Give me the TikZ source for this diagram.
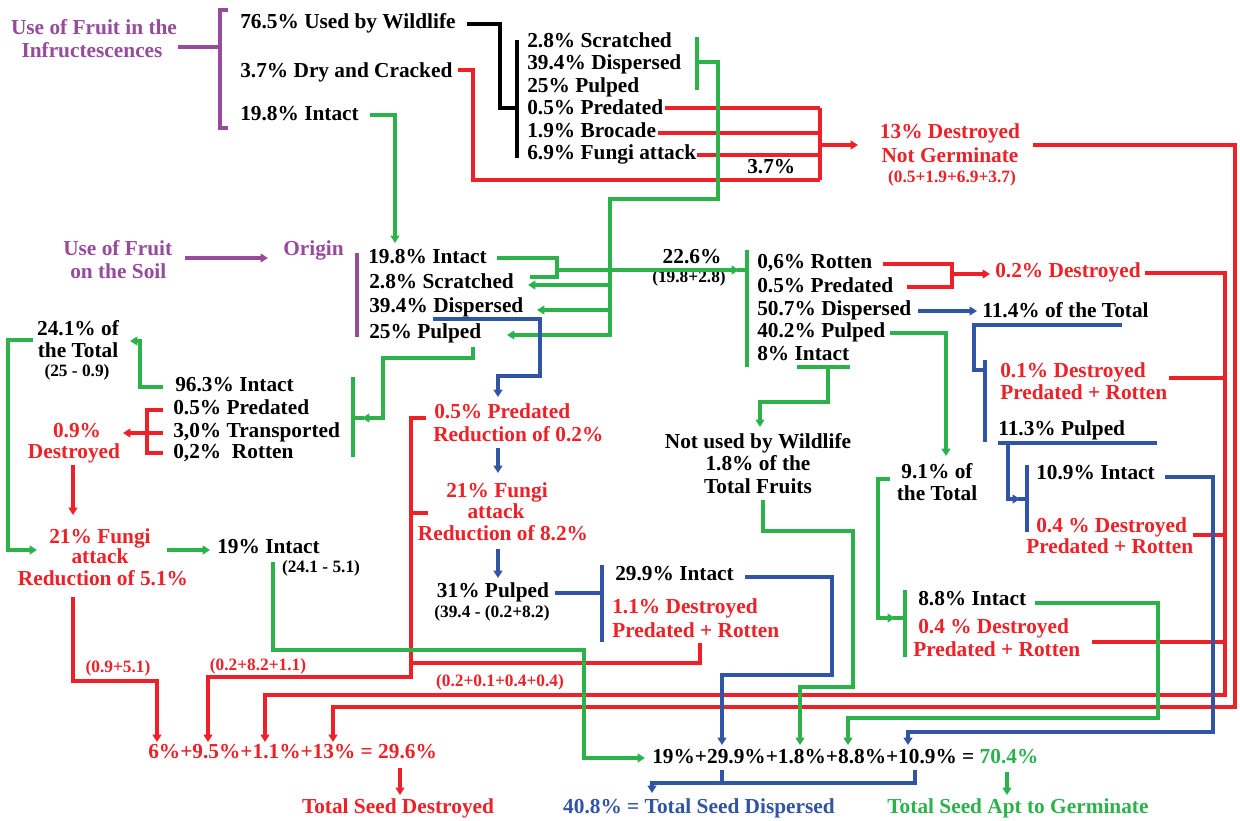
\documentclass[tikz,border=0pt]{standalone}
\usepackage{fontspec}
\setmainfont{Liberation Serif}
\usetikzlibrary{arrows.meta}
\definecolor{cr}{RGB}{237,33,39}
\definecolor{cg}{RGB}{45,178,75}
\definecolor{cb}{RGB}{50,84,165}
\definecolor{cp}{RGB}{150,75,155}
\begin{document}
\begin{tikzpicture}[x=0.75pt,y=-0.75pt,
  tx/.style={inner sep=0pt,font=\bfseries\fontsize{16}{18}\selectfont},
  sm/.style={inner sep=0pt,font=\bfseries\fontsize{13}{15}\selectfont},
  lw/.style={anchor=base west},
  lc/.style={anchor=base},
  ln/.style={line width=2.3pt,line join=miter},
  lr/.style={ln,draw=cr},
  lg/.style={ln,draw=cg},
  lb/.style={ln,draw=cb},
  lk/.style={ln,draw=black},
  lp/.style={ln,draw=cp},
  tip/.style={-{Triangle[length=5.5pt,width=6.5pt]}}]
\fill[white] (0,0) rectangle (1240,821);
\useasboundingbox (0,0) rectangle (1240,821);

% ---------------- texts ----------------
\node[tx,lc,text=cp] (pia) at (94,35) {Use of Fruit in the};
\node[tx,lc,text=cp] (pib) at (92,57) {Infructescences};
\node[tx,lw,text=cp] (psa) at (63,255) {Use of Fruit};
\node[tx,lw,text=cp] (psb) at (70,278) {on the Soil};
\node[tx,lw,text=cp] (orig) at (283,255) {Origin};

\node[tx,lw] (uw) at (240,28) {76.5\% Used by Wildlife};
\node[tx,lw] (dc) at (240,77) {3.7\% Dry and Cracked};
\node[tx,lw] (ti) at (240,120) {19.8\% Intact};

\node[tx,lw] (w1) at (527,47) {2.8\% Scratched};
\node[tx,lw] (w2) at (527,69) {39.4\% Dispersed};
\node[tx,lw] (w3) at (527,92) {25\% Pulped};
\node[tx,lw] (w4) at (527,114) {0.5\% Predated};
\node[tx,lw] (w5) at (527,137) {1.9\% Brocade};
\node[tx,lw] (w6) at (527,159) {6.9\% Fungi attack};
\node[tx,lw] (w7) at (747,173) {3.7\%};

\node[tx,lc,text=cr] (da) at (950,138) {13\% Destroyed};
\node[tx,lc,text=cr] (db) at (950,162) {Not Germinate};
\node[sm,lc,text=cr] (dcc) at (952,182) {(0.5+1.9+6.9+3.7)};

\node[tx,lw] (o1) at (368,263) {19.8\% Intact};
\node[tx,lw] (o2) at (369,288) {2.8\% Scratched};
\node[tx,lw] (o3) at (369,312) {39.4\% Dispersed};
\node[tx,lw] (o4) at (369,338) {25\% Pulped};

\node[tx,lc] (s1) at (692,263) {22.6\%};
\node[sm,lc] (s2) at (689,282) {(19.8+2.8)};

\node[tx,lw] (m1) at (757,268) {0,6\% Rotten};
\node[tx,lw] (m2) at (757,292) {0.5\% Predated};
\node[tx,lw] (m3) at (757,315) {50.7\% Dispersed};
\node[tx,lw] (m4) at (757,337) {40.2\% Pulped};
\node[tx,lw] (m5) at (757,360) {8\% Intact};

\node[tx,lw,text=cr] (d02) at (995,277) {0.2\% Destroyed};
\node[tx,lw] (t114) at (982,317) {11.4\% of the Total};
\node[tx,lw,text=cr] (d01a) at (1000,377) {0.1\% Destroyed};
\node[tx,lw,text=cr] (d01b) at (1000,399) {Predated + Rotten};
\node[tx,lw] (p113) at (998,435) {11.3\% Pulped};
\node[tx,lw] (i109) at (1036,479) {10.9\% Intact};
\node[tx,lw,text=cr] (d04a) at (1036,532) {0.4 \% Destroyed};
\node[tx,lw,text=cr] (d04b) at (1026,553) {Predated + Rotten};

\node[tx,lc] (nu1) at (758,448) {Not used by Wildlife};
\node[tx,lc] (nu2) at (758,470) {1.8\% of the};
\node[tx,lc] (nu3) at (758,493) {Total Fruits};

\node[tx,lc] (t91a) at (937,478) {9.1\% of};
\node[tx,lc] (t91b) at (937,500) {the Total};
\node[tx,lw] (i88) at (918,605) {8.8\% Intact};
\node[tx,lw,text=cr] (d04c) at (918,633) {0.4 \% Destroyed};
\node[tx,lw,text=cr] (d04d) at (913,656) {Predated + Rotten};

\node[tx,lc] (t241a) at (78,335) {24.1\% of};
\node[tx,lc] (t241b) at (78,357) {the Total};
\node[sm,lc] (t241c) at (77,376) {(25 - 0.9)};
\node[tx,lw] (l1) at (175,391) {96.3\% Intact};
\node[tx,lw] (l2) at (173,414) {0.5\% Predated};
\node[tx,lw] (l3) at (173,437) {3,0\% Transported};
\node[tx,lw] (l4) at (173,458) {0,2\%\ \ Rotten};
\node[tx,lc,text=cr] (d09a) at (77,437) {0.9\%};
\node[tx,lc,text=cr] (d09b) at (74,458) {Destroyed};
\node[tx,lc,text=cr] (f1a) at (100,543) {21\% Fungi};
\node[tx,lc,text=cr] (f1b) at (100,563) {attack};
\node[tx,lc,text=cr] (f1c) at (103,585) {Reduction of 5.1\%};
\node[tx,lw] (i19) at (217,553) {19\% Intact};
\node[sm,lc] (i19b) at (321,572) {(24.1 - 5.1)};

\node[tx,lw,text=cr] (pr1) at (434,418) {0.5\% Predated};
\node[tx,lw,text=cr] (pr2) at (433,441) {Reduction of 0.2\%};
\node[tx,lc,text=cr] (f2a) at (497,497) {21\% Fungi};
\node[tx,lc,text=cr] (f2b) at (496,518) {attack};
\node[tx,lc,text=cr] (f2c) at (503,540) {Reduction of 8.2\%};
\node[tx,lc] (p31) at (493,597) {31\% Pulped};
\node[sm,lc] (p31b) at (492,617) {(39.4 - (0.2+8.2)};
\node[tx,lw] (i299) at (615,580) {29.9\% Intact};
\node[tx,lw,text=cr] (d11a) at (612,613) {1.1\% Destroyed};
\node[tx,lw,text=cr] (d11b) at (612,637) {Predated + Rotten};

\node[sm,lc,text=cr] (k1) at (118,672) {(0.9+5.1)};
\node[sm,lc,text=cr] (k2) at (258,670) {(0.2+8.2+1.1)};
\node[sm,lc,text=cr] (k3) at (500,686) {(0.2+0.1+0.4+0.4)};

\node[tx,lw,text=cr] (eqr) at (148,758) {6\%+9.5\%+1.1\%+13\% = 29.6\%};
\node[tx,lw] (eqk) at (652,763) {19\%+29.9\%+1.8\%+8.8\%+10.9\% = {\color{cg}70.4\%}};
\node[tx,lc,text=cr] (tsd) at (398,813) {Total Seed Destroyed};
\node[tx,lc,text=cb] (tsp) at (699,813) {40.8\% = Total Seed Dispersed};
\node[tx,lc,text=cg] (tsg) at (1018,813) {Total Seed Apt to Germinate};

% ---------------- connector ends ----------------
\coordinate (pj) at (178,47);
\coordinate (ps) at (185,258);
\coordinate (po) at (268,258);
\coordinate (k0) at (467,24);

% ---------------- connectors ----------------
% purple
\draw[lp] (pj) -- (220,47);
\draw[lp] (228,10) -- (220,10) -- (220,128) -- (228,128);
\draw[lp,tip] (ps) -- (po);
\draw[lp] (357,253) -- (357,337);

% black
\draw[lk] (k0) -- (500,24) -- (500,108) -- (517,108);
\draw[lk] (517,40) -- (517,158);

% red top
\draw[lr] (458,70) -- (473,70) -- (473,180) -- (820,180);
\draw[lr] (665,108) -- (820,108);
\draw[lr] (658,133) -- (820,133);
\draw[lr] (697,155) -- (820,155);
\draw[lr] (820,108) -- (820,180);
\draw[lr,tip] (820,145) -- (858,145);
\draw[lr,tip] (1033,145) -- (1235,145) -- (1235,707) -- (333,707) -- (333,742);

% green top
\draw[lg] (697,37) -- (697,90);
\draw[lg,tip] (697,62) -- (718,62) -- (718,199) -- (610,199) -- (610,335) -- (507,335);
\draw[lg,tip] (610,285) -- (528,285);
\draw[lg,tip] (610,310) -- (537,310);
\draw[lg,tip] (370,115) -- (395,115) -- (395,243);

% merge 19.8 + 2.8
\draw[lg] (497,258) -- (557,258) -- (557,277) -- (530,277);
\draw[lg,tip] (557,270) -- (739,270);
\draw[lg] (737,270) -- (747,270);
\draw[lg] (747,250) -- (747,367);

% red rotten/predated
\draw[lr] (883,264) -- (952,264) -- (952,287) -- (907,287);
\draw[lr,tip] (952,274) -- (990,274);
\draw[lr,tip] (1145,273) -- (1225,273) -- (1225,695) -- (265,695) -- (265,742);
\draw[lr] (1169,378) -- (1225,378);
\draw[lr] (1193,535) -- (1225,535);
\draw[lr] (1092,642) -- (1225,642);

% blue right
\draw[lb,tip] (918,311) -- (977,311);
\draw[lb] (1122,325) -- (974,325) -- (974,370) -- (985,370);
\draw[lb] (985,360) -- (985,442);
\draw[lb] (998,443) -- (1157,443);
\draw[lb,tip] (1008,443) -- (1008,499) -- (1020,499);
\draw[lb] (1018,499) -- (1027,499);
\draw[lb] (1027,465) -- (1027,532);
\draw[lb,tip] (1165,477) -- (1213,477) -- (1213,732) -- (908,732) -- (908,745);

% green right
\draw[lg,tip] (890,333) -- (946,333) -- (946,456);
\draw[lg,tip] (890,479) -- (878,479) -- (878,618) -- (895,618);
\draw[lg] (893,618) -- (905,618);
\draw[lg] (905,590) -- (905,657);
\draw[lg,tip] (1035,603) -- (1158,603) -- (1158,718) -- (848,718) -- (848,745);
\draw[lg] (797,367) -- (850,367);
\draw[lg,tip] (828,367) -- (828,402) -- (760,402) -- (760,427);
\draw[lg,tip] (763,500) -- (763,531) -- (853,531) -- (853,687) -- (800,687) -- (800,745);

% blue centre
\draw[lb,tip] (745,577) -- (832,577) -- (832,675) -- (722,675) -- (722,745);
\draw[lb,tip] (433,319) -- (540,319) -- (540,376) -- (498,376) -- (498,397);
\draw[lb,tip] (498,448) -- (498,473);
\draw[lb,tip] (498,549) -- (498,578);
\draw[lb] (555,593) -- (602,593);
\draw[lb] (602,565) -- (602,642);

% red centre
\draw[lr] (700,643) -- (700,663) -- (411,663);
\draw[lr,tip] (426,418) -- (411,418) -- (411,677) -- (208,677) -- (208,742);
\draw[lr] (411,513) -- (428,513);

% green centre-left
\draw[lg,tip] (473,347) -- (473,358) -- (383,358) -- (383,418) -- (362,418);
\draw[lg] (353,418) -- (364,418);
\draw[lg] (353,377) -- (353,457);
\draw[lg,tip] (273,562) -- (273,650) -- (584,650) -- (584,758) -- (645,758);

% left
\draw[lg,tip] (33,340) -- (8,340) -- (8,550) -- (37,550);
\draw[lg,tip] (167,550) -- (210,550);
\draw[lg,tip] (163,387) -- (140,387) -- (140,341) -- (130,341);
\draw[lr] (163,410) -- (147,410) -- (147,453) -- (163,453);
\draw[lr] (147,433) -- (163,433);
\draw[lr,tip] (147,433) -- (123,433);
\draw[lr,tip] (73,465) -- (73,515);
\draw[lr,tip] (73,597) -- (73,681) -- (157,681) -- (157,742);

% bottom
\draw[lb] (722,770) -- (722,783);
\draw[lb,tip] (915,770) -- (915,783) -- (652,783) -- (652,793);
\draw[lr,tip] (400,768) -- (400,795);
\draw[lg,tip] (1007,772) -- (1007,795);
\end{tikzpicture}
\end{document}
